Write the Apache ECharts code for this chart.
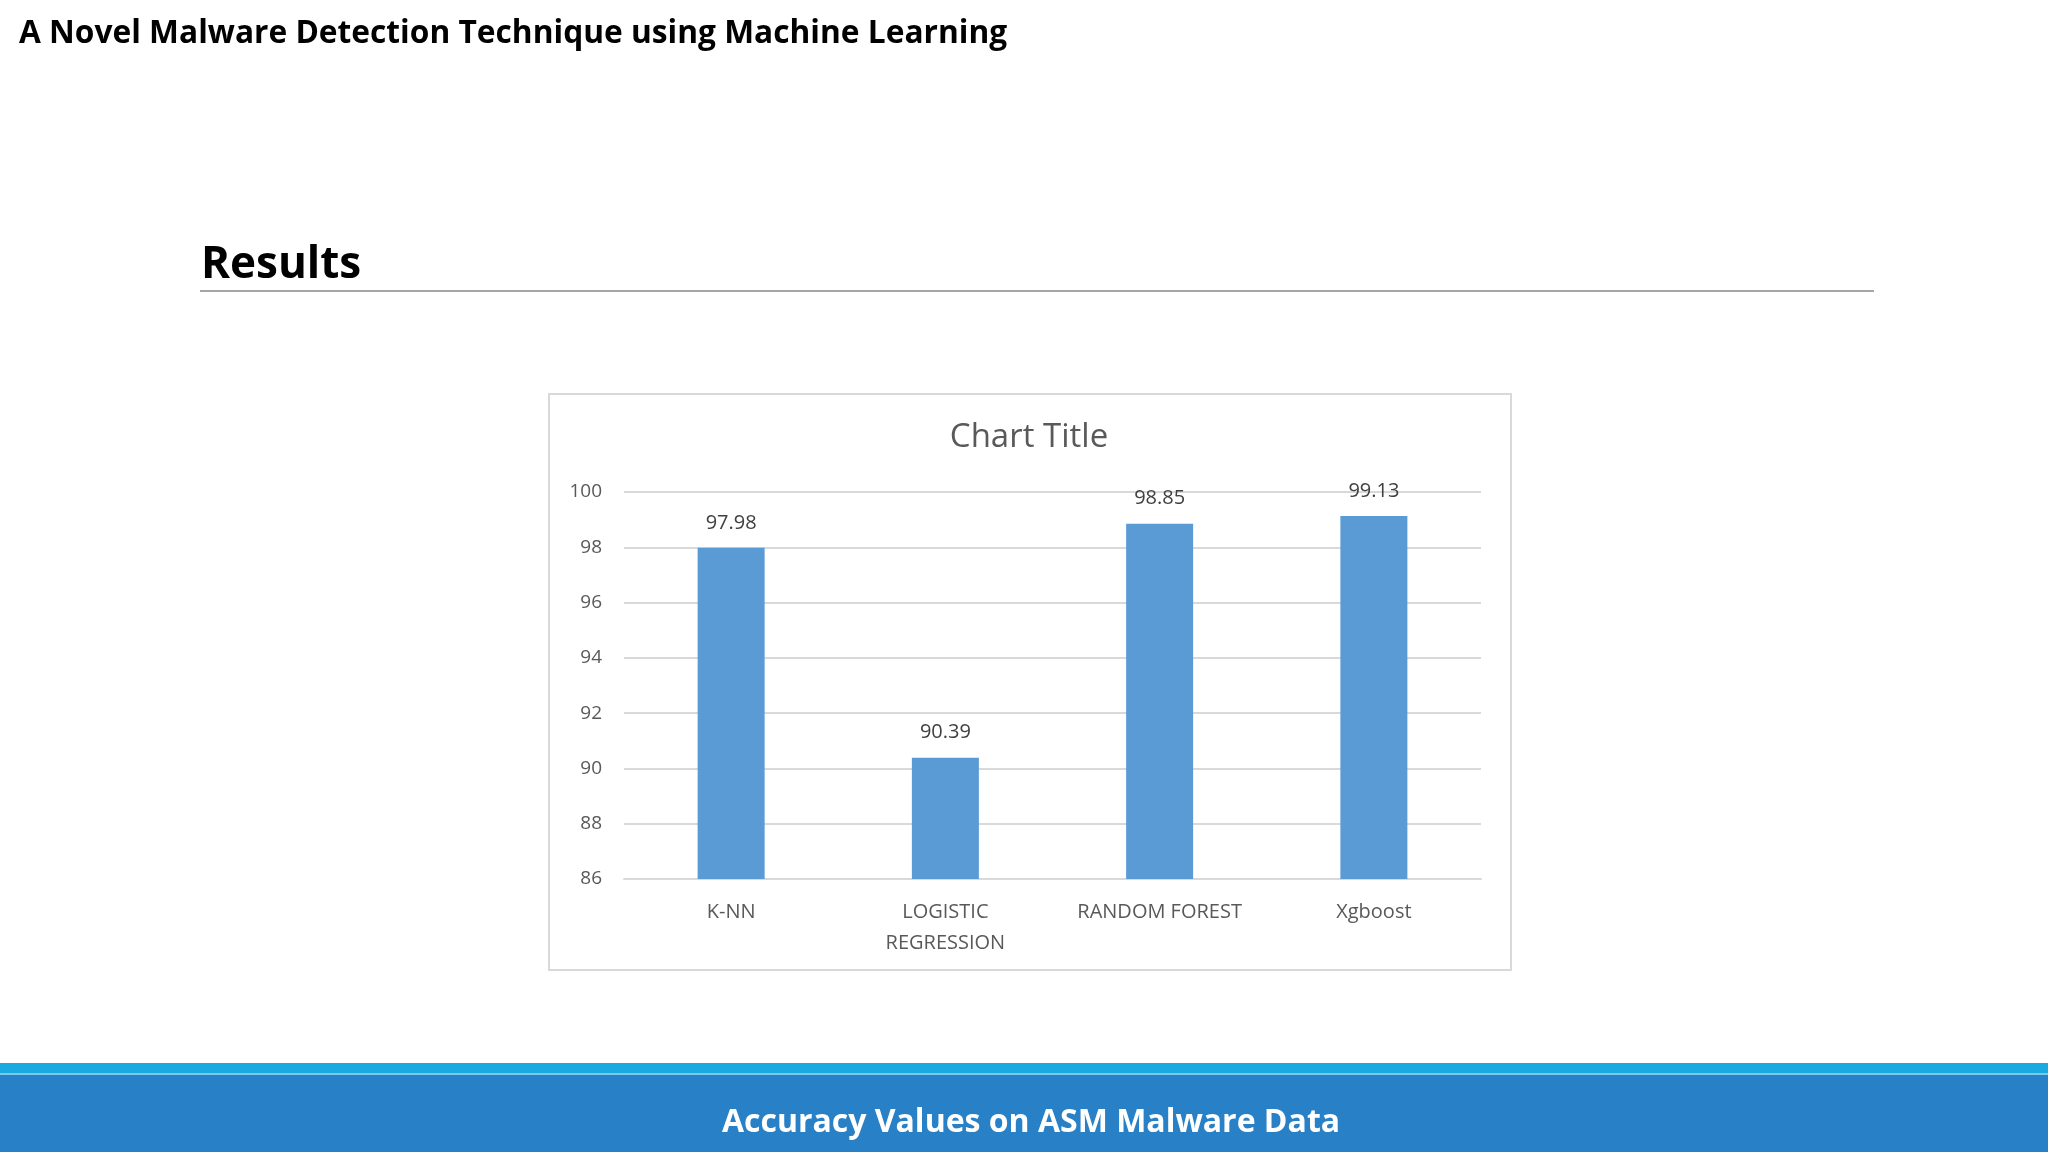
<!DOCTYPE html>
<html>
<head>
<meta charset="utf-8">
<title>Accuracy Values on ASM Malware Data</title>
<script src="https://cdn.jsdelivr.net/npm/echarts@6/dist/echarts.min.js"></script>
<style>
  html, body { margin: 0; padding: 0; background: #fff; }
  #main { width: 2048px; height: 1152px; }
</style>
</head>
<body>
<div id="main"></div>
<script>
// data
var categories = ['K-NN', 'LOGISTIC\nREGRESSION', 'RANDOM FOREST', 'Xgboost'];
var accuracy = [97.98, 90.39, 98.85, 99.13];
var yMin = 86, yMax = 100, yStep = 2;

var fontFamily = '"Open Sans", "Noto Sans", sans-serif';
var chart = echarts.init(document.getElementById('main'));

chart.setOption({
  backgroundColor: '#ffffff',
  textStyle: { fontFamily: fontFamily },
  title: [
    {
      text: 'A Novel Malware Detection Technique using Machine Learning',
      left: 14, top: 13,
      textStyle: { fontSize: 31.7, fontWeight: 'bold', color: '#000', fontFamily: fontFamily }
    },
    {
      text: 'Results',
      left: 196, top: 238,
      textStyle: { fontSize: 44, fontWeight: 'bold', color: '#000', fontFamily: fontFamily }
    },
    {
      text: 'Chart Title',
      left: 1024, top: 416, textAlign: 'center',
      textStyle: { fontSize: 33, fontWeight: 'normal', color: '#595959', fontFamily: fontFamily }
    },
    {
      text: 'Accuracy Values on ASM Malware Data',
      left: 1026, top: 1102, textAlign: 'center',
      textStyle: { fontSize: 32, fontWeight: 'bold', color: '#fff', fontFamily: fontFamily }
    }
  ],
  graphic: [
    // underline under "Results"
    { type: 'rect', shape: { x: 200, y: 290, width: 1674, height: 2 }, style: { fill: '#a6a6a6' }, z: 0 },
    // chart box
    { type: 'rect', shape: { x: 549, y: 394, width: 962, height: 576 }, style: { fill: 'none', stroke: '#d9d9d9', lineWidth: 2 }, z: 0 },
    // footer bands
    { type: 'rect', shape: { x: 0, y: 1063, width: 2048, height: 11 }, style: { fill: '#1ba9e1' }, z: 0 },
    { type: 'rect', shape: { x: 0, y: 1074, width: 2048, height: 78 }, style: { fill: '#2881c6' }, z: 0 },
    { type: 'rect', shape: { x: 0, y: 1073, width: 2048, height: 2 }, style: { fill: '#7cc7ec' }, z: 0 }
  ],
  grid: { left: 624, right: 567, top: 492, bottom: 273 },
  xAxis: {
    type: 'category',
    data: categories,
    axisLine: { show: true, lineStyle: { color: '#d9d9d9', width: 2 } },
    axisTick: { show: false },
    axisLabel: { color: '#595959', fontSize: 20, lineHeight: 31, margin: 18, interval: 0 }
  },
  yAxis: {
    type: 'value',
    min: yMin, max: yMax, interval: yStep,
    axisLine: { show: false },
    axisTick: { show: false },
    splitLine: { lineStyle: { color: '#d9d9d9', width: 2 } },
    axisLabel: { color: '#595959', fontSize: 19, margin: 22 }
  },
  series: [{
    type: 'bar',
    data: accuracy,
    barWidth: 67,
    itemStyle: { color: '#5b9bd5' },
    label: {
      show: true, position: 'top', distance: 15,
      color: '#404040', fontSize: 20,
      formatter: function (p) { return p.value.toFixed(2); }
    }
  }]
});
</script>
</body>
</html>
